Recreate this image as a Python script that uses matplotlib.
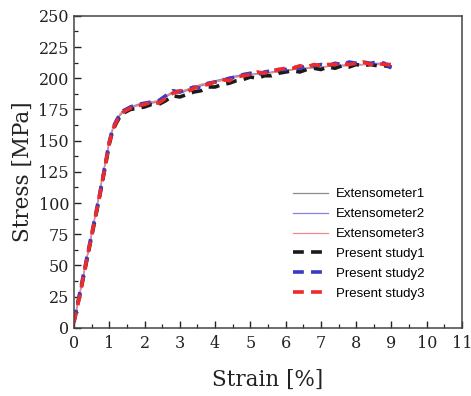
import matplotlib.pyplot as plt
from matplotlib.ticker import MultipleLocator

# extensometer measurements (thin solid lines)
strain_ext = [0.0, 0.2, 0.4, 0.6, 0.8, 1.0, 1.1, 1.2, 1.3, 1.4, 1.6, 1.8, 2.0, 2.2, 2.4,
              2.6, 2.8, 3.0, 3.2, 3.4, 3.6, 3.8, 4.0, 4.3, 4.6, 5.0, 5.4, 5.8, 6.2, 6.6,
              7.0, 7.4, 7.8, 8.2, 8.6, 8.9]
stress_ext1 = [4, 32, 60, 89, 119, 148, 159, 165, 170, 173, 176, 178, 179, 180, 181,
               185, 188, 188, 190, 192, 194, 195, 197, 199, 201, 203, 204, 205, 207, 208,
               209, 210, 210, 211, 211, 211]
stress_ext2 = [5, 33, 61, 90, 120, 149, 160, 166, 171, 174, 177, 179, 180, 181, 182,
               186, 189, 189, 191, 193, 195, 196, 198, 200, 202, 203, 204, 206, 207, 208,
               209, 210, 211, 211, 212, 212]
stress_ext3 = [4, 32, 61, 90, 120, 149, 160, 166, 171, 174, 177, 178, 180, 181, 182,
               186, 188, 189, 191, 193, 195, 196, 197, 199, 201, 203, 204, 205, 207, 208,
               209, 210, 210, 211, 211, 211]

# present study (thick dashed lines)
strain_ps = [0.0, 0.1, 0.2, 0.3, 0.4, 0.5, 0.6, 0.7, 0.8, 0.9, 1.0, 1.1, 1.2, 1.3, 1.4,
             1.6, 1.8, 2.0, 2.2, 2.4, 2.6, 2.8, 3.0, 3.2, 3.4, 3.6, 3.8, 4.0, 4.2, 4.4,
             4.6, 4.8, 5.0, 5.2, 5.4, 5.6, 5.8, 6.0, 6.2, 6.4, 6.6, 6.8, 7.0, 7.2, 7.4,
             7.6, 7.8, 8.0, 8.2, 8.4, 8.6, 8.8, 9.0]
stress_ps1 = [5, 18, 31, 45, 59, 73, 87, 101, 116, 131, 147, 158, 164, 169, 172,
              175, 176, 177, 179, 179, 182, 186, 185, 187, 189, 190, 193, 193, 195, 196,
              198, 199, 201, 200, 202, 202, 204, 205, 206, 205, 207, 208, 207, 209, 208,
              210, 209, 211, 210, 211, 210, 210, 209]
stress_ps2 = [6, 19, 33, 47, 61, 75, 89, 103, 118, 133, 149, 160, 166, 171, 174,
              177, 179, 180, 181, 182, 186, 190, 189, 191, 193, 192, 196, 197, 198, 200,
              201, 203, 204, 203, 205, 206, 207, 207, 209, 208, 210, 210, 211, 210, 212,
              211, 213, 212, 213, 212, 213, 212, 208]
stress_ps3 = [4, 17, 31, 46, 60, 74, 88, 102, 117, 132, 148, 159, 165, 170, 173,
              176, 178, 179, 181, 180, 184, 188, 190, 189, 192, 194, 195, 197, 199, 198,
              201, 202, 203, 205, 204, 206, 207, 208, 208, 210, 209, 211, 210, 211, 211,
              212, 211, 212, 213, 211, 212, 211, 211]
strain_ps3_tail = [9.1, 9.15]
stress_ps3_tail = [210, 209]

plt.rcParams['font.family'] = 'DejaVu Serif'
fig = plt.figure(figsize=(4.71, 3.96), dpi=100)
ax = fig.add_axes([0.157, 0.172, 0.824, 0.788])

ax.plot(strain_ext, stress_ext1, color='#8c8c8c', lw=0.9, label='Extensometer1')
ax.plot(strain_ext, stress_ext2, color='#8484e0', lw=0.9, label='Extensometer2')
ax.plot(strain_ext, stress_ext3, color='#f08a8a', lw=0.9, label='Extensometer3')
ax.plot(strain_ps, stress_ps1, color='#1a1a1a', lw=2.6, dashes=(3, 2), label='Present study1')
ax.plot(strain_ps, stress_ps2, color='#3a3ac8', lw=2.6, dashes=(3, 2), label='Present study2')
ax.plot(strain_ps + strain_ps3_tail, stress_ps3 + stress_ps3_tail, color='#ee2b2b', lw=2.6,
        dashes=(3, 2), label='Present study3')

ax.set_xlim(0, 11)
ax.set_ylim(0, 250)
ax.xaxis.set_major_locator(MultipleLocator(1))
ax.xaxis.set_minor_locator(MultipleLocator(0.5))
ax.yaxis.set_major_locator(MultipleLocator(25))
ax.yaxis.set_minor_locator(MultipleLocator(12.5))
ax.tick_params(which='both', direction='in', top=False, right=False,
               labelsize=11.5, colors='#222222')
ax.tick_params(axis='x', pad=5)
ax.tick_params(which='major', length=5, width=1)
ax.tick_params(which='minor', length=3, width=0.9)
for sp in ax.spines.values():
    sp.set_color('#444444')
    sp.set_linewidth(1.1)

ax.set_xlabel('Strain [%]', fontsize=15.5, color='#222222', labelpad=12)
ax.set_ylabel('Stress [MPa]', fontsize=15.5, color='#222222', labelpad=3)

ax.legend(loc='lower right', bbox_to_anchor=(0.935, 0.052), frameon=False,
          prop={'family': 'Liberation Sans', 'size': 9.5}, handlelength=2.65,
          handletextpad=0.6, labelspacing=0.58)

plt.savefig('out.png')
